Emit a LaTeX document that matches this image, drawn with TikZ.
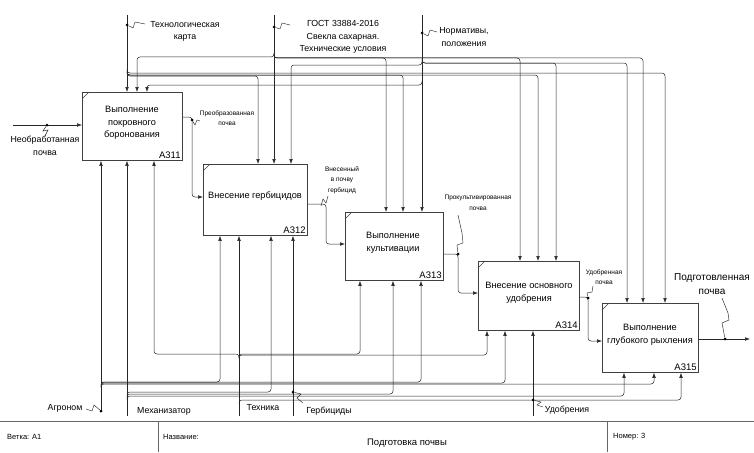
\documentclass[tikz,border=0pt]{standalone}
\usepackage{fontspec}
\setmainfont{Liberation Sans}
\usetikzlibrary{arrows.meta}
\begin{document}
\begin{tikzpicture}[x=1pt,y=-1pt,
  fbox/.style={draw=black!75,line width=0.8pt,fill=white,anchor=north west,inner sep=0pt},
  arr/.style={draw=black!85,line width=0.5pt,rounded corners=3pt,-{Latex[length=5pt,width=3.6pt]}},
  sqg/.style={draw=black!85,line width=0.45pt},
  cornermark/.style={draw=black!75,line width=0.6pt},
  jdot/.style={circle,fill=black,inner sep=0pt,minimum size=3pt},
  btxt/.style={font=\fontsize{9.2}{12.5}\selectfont,align=center,inner sep=0pt},
  idtxt/.style={font=\fontsize{9.5}{10}\selectfont,inner sep=0pt,anchor=south east},
  lbl/.style={font=\fontsize{8.8}{12.5}\selectfont,align=center,inner sep=0pt},
  smalllbl/.style={font=\fontsize{6.5}{10.5}\selectfont,align=center,inner sep=0pt},
  foot/.style={font=\fontsize{7.5}{8}\selectfont,inner sep=0pt,anchor=west}]
\useasboundingbox (0,0) rectangle (754,452);
\fill[white] (0,0) rectangle (754,452);

% boxes
\node[fbox,minimum width=100pt,minimum height=68pt] (b1) at (82,92) {};
\node[fbox,minimum width=104pt,minimum height=71pt] (b2) at (203,164) {};
\node[fbox,minimum width=98pt,minimum height=68pt] (b3) at (345,212) {};
\node[fbox,minimum width=101pt,minimum height=69pt] (b4) at (478,261) {};
\node[fbox,minimum width=96pt,minimum height=69pt] (b5) at (602,303) {};
\foreach \b in {b1,b2,b3,b4,b5}{
  \draw[cornermark] ([yshift=-7pt]\b.north west) -- ([xshift=7pt]\b.north west);
}
\node[btxt] (t1) at (132,123) {Выполнение\\покровного\\боронования};
\node[btxt] (t2) at (255,196) {Внесение гербицидов};
\node[btxt] (t3) at (393,243) {Выполнение\\культивации};
\node[btxt] (t4) at (529,293) {Внесение основного\\удобрения};
\node[btxt] (t5) at (650,335) {Выполнение\\глубокого рыхления};
\node[idtxt] (i1) at ([xshift=-2pt,yshift=2pt]b1.south east) {А311};
\node[idtxt] (i2) at ([xshift=-2pt,yshift=2pt]b2.south east) {А312};
\node[idtxt] (i3) at ([xshift=-2pt,yshift=2pt]b3.south east) {А313};
\node[idtxt] (i4) at ([xshift=-2pt,yshift=2pt]b4.south east) {А314};
\node[idtxt] (i5) at ([xshift=-2pt,yshift=2pt]b5.south east) {А315};

% sources
\coordinate (T) at (127,15);
\coordinate (G) at (274,15);
\coordinate (N) at (422,15);
\coordinate (Ag) at (101,411);
\coordinate (Me) at (127,416);
\coordinate (Tk) at (239,416);
\coordinate (He) at (293,416);
\coordinate (Ud) at (533,416);
\coordinate (In) at (13,125);
\coordinate (Out) at (750,339);

% controls: technological card
\draw[arr] (T) -- ([xshift=45pt]b1.north west);
\draw[arr] ([yshift=-57pt]T) |- (258,76) -- ([xshift=55pt]b2.north west);
\draw[arr] ([yshift=-56pt]T) |- (403,75) -- ([xshift=58pt]b3.north west);
\draw[arr] ([yshift=-56pt]T) |- (538,75) -- ([xshift=60pt]b4.north west);
\draw[arr] ([yshift=-54pt]T) |- (665,73) -- ([xshift=63pt]b5.north west);
% GOST
\draw[arr] (G) -- ([xshift=71pt]b2.north west);
\draw[arr] ([yshift=-38pt]G) |- (137,57) -- ([xshift=55pt]b1.north west);
\draw[arr] ([yshift=-39pt]G) |- (386,58) -- ([xshift=41pt]b3.north west);
\draw[arr] ([yshift=-39pt]G) |- (520,58) -- ([xshift=42pt]b4.north west);
\draw[arr] ([yshift=-39pt]G) |- (643,58) -- ([xshift=41pt]b5.north west);
% Normatives
\draw[arr] (N) -- ([xshift=77pt]b3.north west);
\draw[arr] ([yshift=-44pt]N) |- (556,63) -- ([xshift=78pt]b4.north west);
\draw[arr] ([yshift=-44pt]N) |- (627,63) -- ([xshift=25pt]b5.north west);
\draw[arr] ([yshift=-46pt]N) |- (291,65) -- ([xshift=88pt]b2.north west);
\draw[arr] ([yshift=-66pt]N) |- (147,85) -- ([xshift=65pt]b1.north west);

% mechanisms: agronomist
\draw[arr] (Ag) -- ([xshift=19pt]b1.south west);
\draw[arr] ([yshift=25pt]Ag) |- (220,382) -- ([xshift=17pt]b2.south west);
\draw[arr] ([yshift=25pt]Ag) |- (421,382) -- ([xshift=76pt]b3.south west);
\draw[arr] ([yshift=24pt]Ag) |- (505,383) -- ([xshift=27pt]b4.south west);
\draw[arr] ([yshift=23pt]Ag) |- (654,384) -- ([xshift=52pt]b5.south west);
% operator
\draw[arr] (Me) -- ([xshift=45pt]b1.south west);
\draw[arr] ([yshift=20pt]Me) |- (271,392) -- ([xshift=68pt]b2.south west);
\draw[arr] ([yshift=18pt]Me) |- (393,394) -- ([xshift=48pt]b3.south west);
\draw[arr] ([yshift=16pt]Me) |- (624,396) -- ([xshift=22pt]b5.south west);
% machinery
\draw[arr] (Tk) -- ([xshift=36pt]b2.south west);
\draw[arr] ([yshift=58pt]Tk) |- (154,354) -- ([xshift=72pt]b1.south west);
\draw[arr] ([yshift=58pt]Tk) |- (360,354) -- ([xshift=15pt]b3.south west);
\draw[arr] ([yshift=57pt]Tk) |- (487,355) -- ([xshift=9pt]b4.south west);
\draw[arr] ([yshift=12pt]Tk) |- (681,400) -- ([xshift=79pt]b5.south west);
% herbicides, fertilizers
\draw[arr] (He) -- ([xshift=90pt]b2.south west);
\draw[arr] (Ud) -- ([xshift=55pt]b4.south west);

% inputs / outputs
\draw[arr] (In) -- (In -| b1.west);
\draw[arr] ([yshift=-25pt]b1.north east) -| (192,197) -- ([yshift=-33pt]b2.north west);
\draw[arr] ([yshift=-40pt]b2.north east) -| (326,244) -- ([yshift=-32pt]b3.north west);
\draw[arr] ([yshift=-42pt]b3.north east) -| (458,293) -- ([yshift=-32pt]b4.north west);
\draw[arr] ([yshift=-36pt]b4.north east) -| (588,341) -- ([yshift=-38pt]b5.north west);
\draw[arr] ([yshift=-36pt]b5.north east) -- (Out);

% dots
\node[jdot] (dT) at (127,25) {};
\node[jdot] (dG) at (274,27) {};
\node[jdot] (dN) at (422,33) {};
\node[jdot] (dIn) at (47,125) {};
\node[jdot] (d1) at (192,120) {};
\node[jdot] (d3) at (458,254) {};
\node[jdot] (d4) at (588,298) {};
\node[jdot] (d5) at (725,339) {};
\node[jdot] (dAg) at (101,411) {};
\node[jdot] (dHe) at (293,392) {};
\node[jdot] (dUd) at (533,400) {};

% squiggles
\draw[sqg] (dT) -- (133,28) -- (135,22) -- (145,24);
\draw[sqg] (dG) -- (280,29) -- (282,23) -- (290,25);
\draw[sqg] (dN) -- (428,36) -- (430,30) -- (437,32);
\draw[sqg] (dIn) -- (43,131) -- (48,130) -- (45,136);
\draw[sqg] (d1) -- (195,125) -- (197,120) -- (200,121);
\draw[sqg] (321,206) -- (323,199) -- (326,203) -- (328,196);
\draw[sqg] (d3) -- (457,245) -- (463,243) -- (462,233) -- (458,215);
\draw[sqg] (d4) -- (587,293) -- (592,292) -- (593,286);
\draw[sqg] (d5) -- (722,323) -- (729,320) -- (728,313) -- (722,298);
\draw[sqg] (dAg) -- (94,405) -- (92,411) -- (86,409);
\draw[sqg] (dHe) -- (301,394) -- (297,398) -- (303,403);
\draw[sqg] (dUd) -- (541,402) -- (537,405) -- (543,407);

% labels
\node[lbl] (lT) at (185,31.5) {Технологическая\\карта};
\node[lbl] (lG) at (343,37) {ГОСТ 33884-2016\\Свекла сахарная.\\Технические условия};
\node[lbl] (lN) at (464,37) {Нормативы,\\положения};
\node[lbl] (lIn) at (45,146) {Необработанная\\почва};
\node[smalllbl] (l1) at (227,118) {Преобразованная\\почва};
\node[smalllbl] (l2) at (342,180) {Внесенный\\в почву\\гербицид};
\node[smalllbl] (l3) at (478,203) {Прокультивированная\\почва};
\node[smalllbl] (l4) at (604,277) {Удобренная\\почва};
\node[font=\fontsize{10}{14}\selectfont,align=center,inner sep=0pt] (l5) at (712,284) {Подготовленная\\почва};
\node[lbl] (lAg) at (65,408) {Агроном};
\node[lbl] (lMe) at (164,411) {Механизатор};
\node[lbl] (lTk) at (263,408) {Техника};
\node[lbl] (lHe) at (329,411) {Гербициды};
\node[lbl] (lUd) at (567,410) {Удобрения};

% footer
\draw[black!60,line width=0.6pt] (0,421) -- (754,421);
\draw[black!60,line width=0.6pt] (158,421) -- (158,452);
\draw[black!60,line width=0.6pt] (607,421) -- (607,452);
\node[foot] (f1) at (7,437) {Ветка: A1};
\node[foot] (f2) at (163,437) {Название:};
\node[font=\fontsize{9.5}{10}\selectfont,inner sep=0pt] (f3) at (407,443) {Подготовка почвы};
\node[foot] (f4) at (613,437) {Номер: 3};
\end{tikzpicture}
\end{document}
